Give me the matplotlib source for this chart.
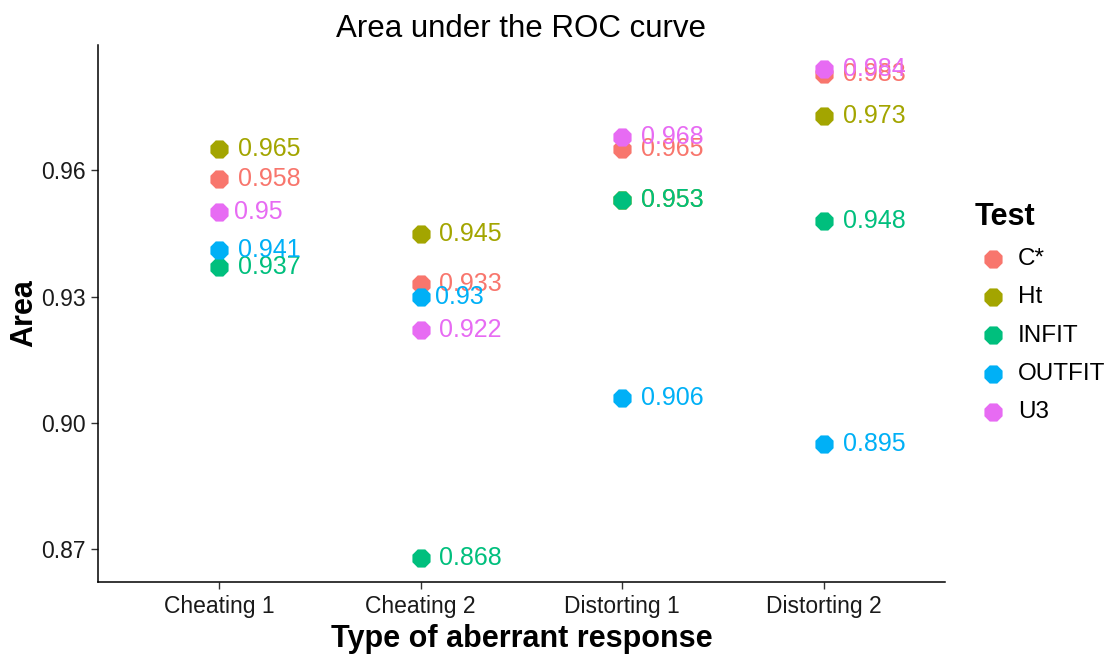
import matplotlib
matplotlib.use("Agg")
import matplotlib.pyplot as plt
from matplotlib.transforms import offset_copy

plt.rcParams['font.family'] = ['Liberation Sans', 'DejaVu Sans']

categories = ["Cheating 1", "Cheating 2", "Distorting 1", "Distorting 2"]
tests = ["C*", "Ht", "INFIT", "OUTFIT", "U3"]
colors = ["#F8766D", "#A3A500", "#00BF7D", "#00B0F6", "#E76BF3"]

area_cstar = [0.958, 0.933, 0.965, 0.983]
area_ht = [0.965, 0.945, 0.953, 0.973]
area_infit = [0.937, 0.868, 0.953, 0.948]
area_outfit = [0.941, 0.930, 0.906, 0.895]
area_u3 = [0.950, 0.922, 0.968, 0.984]
series = [area_cstar, area_ht, area_infit, area_outfit, area_u3]

fig = plt.figure(figsize=(11.13, 6.55), dpi=100)
ax = fig.add_axes([98 / 1113, 73 / 655, 847 / 1113, 537 / 655])

xs = list(range(1, len(categories) + 1))
handles = []
for name, col, vals in zip(tests, colors, series):
    h = ax.scatter(xs, vals, s=200, color=col, marker='8', linewidths=0, zorder=3, label=name)
    handles.append(h)

# labels: ggplot-like hjust = -0.3
fig.canvas.draw()
renderer = fig.canvas.get_renderer()
for name, col, vals in zip(tests, colors, series):
    for x, v in zip(xs, vals):
        lab = "{:g}".format(v)
        t = ax.text(x, v, lab, color=col, fontsize=18, va='center', ha='left', zorder=4)
        w = t.get_window_extent(renderer).width * 72 / fig.dpi
        t.set_transform(offset_copy(ax.transData, fig=fig, x=0.3 * w, y=0, units='points'))

ax.set_xlim(0.4, 4.6)
ax.set_ylim(0.8622, 0.9898)
ax.set_xticks(xs)
ax.set_xticklabels(categories)
ax.set_yticks([0.87, 0.90, 0.93, 0.96])
ax.set_yticklabels(["0.87", "0.90", "0.93", "0.96"])
ax.tick_params(axis='both', labelsize=16.5, colors='#333333', length=5, width=1, pad=4)
ax.tick_params(axis='both', labelcolor='#1a1a1a')
for s in ['top', 'right']:
    ax.spines[s].set_visible(False)
for s in ['left', 'bottom']:
    ax.spines[s].set_linewidth(1.1)
ax.set_title("Area under the ROC curve", fontsize=22.5, pad=6)
ax.set_xlabel("Type of aberrant response", fontsize=22, fontweight='bold', labelpad=5)
ax.set_ylabel("Area", fontsize=22, fontweight='bold', labelpad=1)

leg = fig.legend(handles=handles, labels=tests, loc='upper left',
                 bbox_to_anchor=(965 / 1113, 1 - 192 / 655), frameon=False,
                 title="Test", fontsize=17.5, title_fontsize=22,
                 labelspacing=0.67, handletextpad=0.29, handlelength=1.5,
                 markerscale=1.0, borderaxespad=0)
leg.get_title().set_fontweight('bold')
leg._legend_box.align = "left"

fig.savefig("out.png", dpi=100)
